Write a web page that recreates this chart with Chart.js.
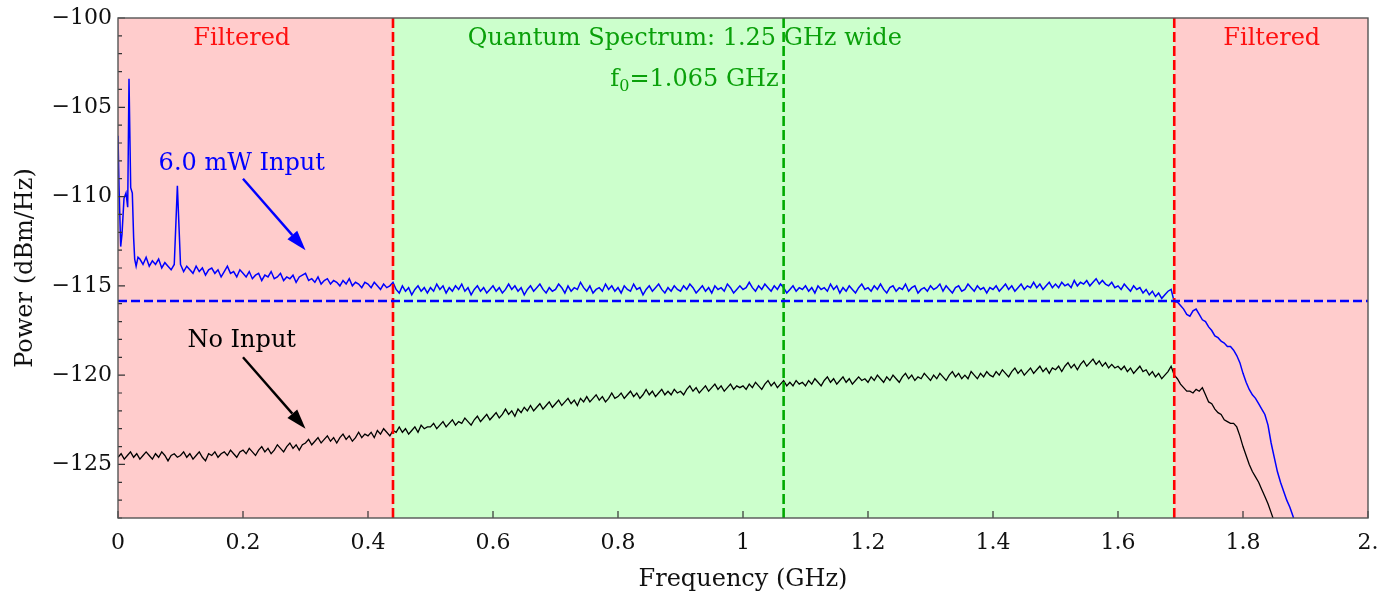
<!DOCTYPE html>
<html>
<head>
<meta charset="utf-8">
<script src="https://cdn.jsdelivr.net/npm/chart.js@4.4.1/dist/chart.umd.min.js"></script>
<style>
  body { margin: 0; background: #fff; }
  #wrap { width: 1384px; height: 603px; }
</style>
</head>
<body>
<div id="wrap"><canvas id="spec" width="1384" height="603"></canvas></div>
<script>
// axis ticks
const xTickValues = [0, 0.2, 0.4, 0.6, 0.8, 1, 1.2, 1.4, 1.6, 1.8, 2];
const xTickLabels = ['0', '0.2', '0.4', '0.6', '0.8', '1', '1.2', '1.4', '1.6', '1.8', '2.'];
const yTickValues = [-125, -120, -115, -110, -105, -100];
const yTickLabels = ['\u2212125', '\u2212120', '\u2212115', '\u2212110', '\u2212105', '\u2212100'];

// filter pass band and center (GHz), reference level (dBm/Hz)
const passLow = 0.44;
const passHigh = 1.69;
const centerFreq = 1.065;
const pumpLevel = -115.85;

// 6.0 mW input, spurs near DC (irregular sampling)
const spurFreq = [0, 0.0016, 0.0043, 0.0064, 0.0096, 0.0128, 0.0155, 0.0176, 0.0203, 0.0229, 0.025, 0.0267, 0.029, 0.032];
const spurPower = [-106.6, -109.4, -112.8, -112.1, -110.1, -109.8, -110.6, -103.4, -109.5, -109.8, -112.3, -113.5, -113.9, -113.4];

// traces on a 5 MHz grid
const gridStep = 0.005;
const pumpStart = 0.035;
const pumpPower = [
  -113.5, -113.8, -113.4, -113.9, -113.6, -113.8, -113.5, -114.0, -113.7, -113.9, -114.1, -113.8, -109.4,
  -113.8, -114.2, -113.9, -114.1, -114.3, -113.9, -114.2, -114.0, -114.4, -114.1, -114.0, -114.3, -114.1, -114.5, -114.2, -113.9, -114.3, -114.2, -114.5, -114.1,
  -114.3, -114.5, -114.2, -114.6, -114.4, -114.3, -114.7, -114.4, -114.5, -114.2, -114.6, -114.5, -114.3, -114.7, -114.5, -114.6, -114.4, -114.8, -114.5, -114.4,
  -114.3, -114.7, -114.6, -114.8, -114.5, -114.9, -114.7, -114.6, -114.9, -114.7, -114.8, -115.0, -114.7, -114.9, -114.6, -115.0, -114.8, -114.9, -115.1, -114.8,
  -114.9, -115.1, -114.8, -115.0, -115.2, -114.9, -115.1, -115.0, -114.8, -115.2, -115.4, -115.0, -115.3, -115.1, -115.5, -115.2, -115.0, -115.3, -115.1, -115.4,
  -115.1, -115.3, -114.9, -115.2, -115.0, -115.4, -115.1, -115.3, -115.0, -115.2, -114.9, -115.3, -115.1, -115.5, -115.2, -115.0, -115.3, -115.1, -115.4, -115.2,
  -115.0, -115.3, -115.1, -115.4, -115.2, -114.9, -115.2, -115.0, -115.3, -115.1, -115.5, -115.2, -115.0, -115.3, -115.1, -114.9, -115.2, -115.4, -115.1, -115.3,
  -115.2, -114.9, -115.1, -115.4, -115.0, -115.3, -115.1, -115.2, -114.8, -115.1, -115.3, -115.0, -115.4, -115.2, -115.1, -115.3, -114.9, -115.2, -115.0, -115.3,
  -115.1, -115.4, -115.0, -115.2, -115.3, -114.9, -115.2, -115.1, -115.5, -115.2, -115.0, -115.3, -115.1, -114.9, -115.2, -115.4, -115.1, -115.3, -115.0, -115.2,
  -115.3, -115.0, -115.2, -114.9, -115.1, -115.4, -115.2, -115.0, -115.3, -115.1, -115.4, -115.0, -115.2, -115.1, -115.3, -114.9, -115.1, -115.4, -115.2, -115.0,
  -115.2, -115.1, -114.8, -115.1, -115.3, -115.0, -115.2, -114.9, -115.1, -115.3, -115.0, -115.2, -114.9, -115.1, -115.4, -115.2, -115.0, -115.3, -115.1, -115.2,
  -115.0, -115.3, -115.1, -115.4, -115.0, -115.2, -115.1, -115.3, -114.9, -115.2, -115.0, -115.4, -115.1, -115.3, -115.0, -115.2, -115.4, -115.1, -114.9, -115.2,
  -115.1, -115.3, -115.0, -115.2, -114.9, -115.2, -115.4, -115.1, -115.0, -115.3, -115.1, -115.2, -114.9, -115.3, -115.1, -115.0, -115.4, -115.2, -115.1, -115.3,
  -115.0, -115.2, -115.1, -114.9, -115.3, -115.0, -115.2, -115.4, -115.1, -115.0, -115.3, -115.2, -114.9, -115.1, -115.3, -115.0, -115.2, -115.1, -115.4, -115.1,
  -115.2, -115.0, -115.3, -115.1, -114.9, -115.2, -115.0, -115.3, -115.1, -114.9, -115.2, -115.0, -115.1, -114.8, -115.1, -114.9, -115.2, -115.0, -114.8, -115.1,
  -114.9, -115.1, -114.8, -115.0, -114.9, -115.1, -114.7, -115.0, -114.8, -114.9, -114.7, -115.0, -114.8, -114.6, -114.9, -114.7, -114.9, -115.0, -114.8, -115.1,
  -115.0, -115.2, -114.9, -115.1, -115.3, -115.0, -115.2, -115.1, -115.4, -115.2, -115.5, -115.3, -115.6, -115.4, -115.7, -115.5, -115.3, -115.2, -115.9, -115.9,
  -116.1, -116.3, -116.6, -116.7, -116.4, -116.3, -116.6, -116.9, -117.0, -117.3, -117.5, -117.8, -117.9, -118.1, -118.2, -118.4, -118.4, -118.6, -118.9, -119.3,
  -119.9, -120.4, -120.8, -121.1, -121.3, -121.6, -121.9, -122.2, -122.8, -123.8, -124.6, -125.4, -126.0, -126.5, -127.0, -127.4, -127.9, -128.5
];

// no input
const quietStart = 0;
const quietPower = [
  -124.6, -124.4, -124.7, -124.5, -124.3, -124.6, -124.4, -124.7, -124.5, -124.3, -124.5, -124.7, -124.4, -124.6, -124.3, -124.5, -124.8, -124.5, -124.4, -124.6,
  -124.5, -124.3, -124.6, -124.4, -124.7, -124.5, -124.3, -124.6, -124.8, -124.4, -124.5, -124.3, -124.6, -124.4, -124.3, -124.5, -124.2, -124.4, -124.6, -124.3,
  -124.2, -124.4, -124.1, -124.3, -124.5, -124.2, -124.0, -124.3, -124.1, -124.4, -124.2, -123.9, -124.1, -124.3, -124.0, -123.8, -124.1, -123.9, -124.2, -123.9,
  -123.8, -123.6, -123.9, -123.7, -123.5, -123.8, -123.6, -123.4, -123.7, -123.5, -123.8, -123.5, -123.3, -123.6, -123.4, -123.7, -123.5, -123.2, -123.5, -123.3,
  -123.4, -123.2, -123.5, -123.1, -123.3, -123.0, -123.2, -123.4, -123.1, -123.2, -122.9, -123.2, -123.0, -123.3, -123.1, -122.9, -123.2, -122.8, -123.0, -122.9,
  -122.9, -122.7, -123.0, -122.8, -122.6, -122.9, -122.7, -122.5, -122.8, -122.6, -122.7, -122.4, -122.6, -122.8, -122.5, -122.3, -122.6, -122.4, -122.2, -122.5,
  -122.3, -122.1, -122.4, -122.2, -121.9, -122.2, -122.0, -122.3, -121.9, -122.1, -121.8, -122.0, -121.7, -122.0, -121.8, -121.6, -121.9, -121.7, -121.5, -121.8,
  -121.6, -121.4, -121.7, -121.5, -121.3, -121.6, -121.4, -121.7, -121.3, -121.5, -121.2, -121.5, -121.3, -121.1, -121.4, -121.2, -121.5, -121.3, -121.0, -121.3,
  -121.2, -121.0, -121.3, -121.1, -120.9, -121.2, -121.0, -121.3, -121.1, -120.8, -121.1, -120.9, -121.2, -121.0, -120.8, -121.1, -120.9, -121.1, -120.8, -121.0,
  -120.9, -121.1, -120.8, -120.6, -120.9, -120.7, -121.0, -120.8, -120.6, -120.9, -120.7, -120.5, -120.8, -120.6, -120.9, -120.7, -120.5, -120.8, -120.6, -120.7,
  -120.6, -120.8, -120.5, -120.7, -120.4, -120.6, -120.8, -120.5, -120.3, -120.6, -120.4, -120.7, -120.5, -120.3, -120.6, -120.4, -120.6, -120.3, -120.5, -120.4,
  -120.6, -120.3, -120.5, -120.2, -120.4, -120.6, -120.3, -120.1, -120.4, -120.2, -120.5, -120.3, -120.1, -120.4, -120.2, -120.5, -120.3, -120.1, -120.3, -120.2,
  -120.4, -120.1, -120.3, -120.0, -120.2, -120.4, -120.1, -120.3, -120.0, -120.2, -120.4, -120.1, -119.9, -120.2, -120.0, -120.3, -120.1, -120.2, -119.9, -120.1,
  -120.3, -120.0, -120.2, -119.9, -120.1, -120.3, -120.0, -119.8, -120.1, -119.9, -120.2, -120.0, -120.2, -119.8, -120.0, -120.2, -119.9, -120.1, -119.8, -120.0,
  -120.1, -119.8, -120.0, -119.7, -119.9, -120.1, -119.8, -119.6, -119.9, -119.7, -120.0, -119.8, -119.6, -119.9, -119.7, -119.5, -119.8, -119.6, -119.9, -119.6,
  -119.7, -119.5, -119.8, -119.5, -119.3, -119.6, -119.4, -119.7, -119.4, -119.2, -119.5, -119.3, -119.1, -119.4, -119.2, -119.5, -119.3, -119.6, -119.4, -119.6,
  -119.5, -119.7, -119.5, -119.8, -119.6, -119.9, -119.7, -119.5, -119.8, -119.7, -120.0, -119.8, -120.1, -119.9, -120.2, -120.0, -119.8, -119.5, -120.0, -120.2,
  -120.5, -120.7, -120.9, -120.9, -121.0, -120.8, -120.9, -120.7, -121.1, -121.5, -121.6, -121.9, -122.1, -122.2, -122.5, -122.6, -122.7, -122.7, -122.9, -123.4,
  -124.0, -124.5, -125.0, -125.4, -125.7, -126.0, -126.4, -126.8, -127.2, -127.7, -128.2, -128.8
];

const SERIF = "'DejaVu Serif', serif";
const RED = '#ff1010';
const GREEN = '#0aa00a';
const BLUE = '#0000ff';

function onGrid(start, values) {
  return values.map((v, i) => ({ x: +(start + i * gridStep).toFixed(4), y: v }));
}

const pumpData = spurFreq.map((f, i) => ({ x: f, y: spurPower[i] })).concat(onGrid(pumpStart, pumpPower));
const quietData = onGrid(quietStart, quietPower);

// text labels and arrows, placed in data units
const notes = [
  { text: 'Filtered', x: 0.198, y: -101.5, color: RED, align: 'center' },
  { text: 'Filtered', x: 1.846, y: -101.5, color: RED, align: 'center' },
  { text: 'Quantum Spectrum: 1.25 GHz wide', x: 0.907, y: -101.5, color: GREEN, align: 'center' },
  { text: '6.0 mW Input', x: 0.198, y: -108.5, color: BLUE, align: 'center' },
  { text: 'No Input', x: 0.198, y: -118.4, color: '#000', align: 'center' }
];
const arrows = [
  { from: [0.2, -109.0], to: [0.3, -113.0], color: BLUE },
  { from: [0.2, -119.0], to: [0.3, -123.0], color: '#000' }
];

function drawArrow(ctx, x0, y0, x1, y1, color) {
  const ang = Math.atan2(y1 - y0, x1 - x0);
  const head = 20, half = 6.5;
  const bx = x1 - head * Math.cos(ang), by = y1 - head * Math.sin(ang);
  ctx.strokeStyle = color;
  ctx.fillStyle = color;
  ctx.lineWidth = 2.4;
  ctx.beginPath();
  ctx.moveTo(x0, y0);
  ctx.lineTo(bx, by);
  ctx.stroke();
  ctx.beginPath();
  ctx.moveTo(x1, y1);
  ctx.lineTo(bx + half * Math.sin(ang), by - half * Math.cos(ang));
  ctx.lineTo(bx - half * Math.sin(ang), by + half * Math.cos(ang));
  ctx.closePath();
  ctx.fill();
}

const bandPlugin = {
  id: 'bands',
  beforeDatasetsDraw(chart) {
    const { ctx, chartArea: a, scales: { x } } = chart;
    const xl = x.getPixelForValue(passLow), xh = x.getPixelForValue(passHigh);
    ctx.save();
    ctx.fillStyle = '#ffcccc';
    ctx.fillRect(a.left, a.top, xl - a.left, a.bottom - a.top);
    ctx.fillRect(xh, a.top, a.right - xh, a.bottom - a.top);
    ctx.fillStyle = '#ccffcc';
    ctx.fillRect(xl, a.top, xh - xl, a.bottom - a.top);
    ctx.restore();
  }
};

const notePlugin = {
  id: 'notes',
  afterDatasetsDraw(chart) {
    const { ctx, scales: { x, y } } = chart;
    ctx.save();
    ctx.font = '24px ' + SERIF;
    ctx.textBaseline = 'alphabetic';
    notes.forEach(n => {
      ctx.fillStyle = n.color;
      ctx.textAlign = n.align;
      ctx.fillText(n.text, x.getPixelForValue(n.x), y.getPixelForValue(n.y));
    });
    // f0 label with subscript, right edge just left of the center line
    const right = x.getPixelForValue(centerFreq) - 5;
    const base = y.getPixelForValue(-103.8);
    ctx.textAlign = 'left';
    ctx.fillStyle = GREEN;
    const tail = '=1.065 GHz';
    ctx.font = '24px ' + SERIF;
    const wf = ctx.measureText('f').width, wt = ctx.measureText(tail).width;
    ctx.font = '16px ' + SERIF;
    const ws = ctx.measureText('0').width;
    let px = right - wf - ws - wt;
    ctx.font = '24px ' + SERIF;
    ctx.fillText('f', px, base);
    ctx.font = '16px ' + SERIF;
    ctx.fillText('0', px + wf, base + 5);
    ctx.font = '24px ' + SERIF;
    ctx.fillText(tail, px + wf + ws, base);
    arrows.forEach(r => drawArrow(ctx,
      x.getPixelForValue(r.from[0]), y.getPixelForValue(r.from[1]),
      x.getPixelForValue(r.to[0]), y.getPixelForValue(r.to[1]), r.color));
    ctx.restore();
  }
};

const framePlugin = {
  id: 'frame',
  afterDraw(chart) {
    const { ctx, chartArea: a, scales: { x, y } } = chart;
    ctx.save();
    ctx.strokeStyle = '#333';
    ctx.lineWidth = 1.2;
    ctx.beginPath();
    xTickValues.forEach(v => {
      const px = x.getPixelForValue(v);
      ctx.moveTo(px, a.bottom);
      ctx.lineTo(px, a.bottom - 7);
    });
    for (let v = Math.ceil(y.min); v <= y.max; v++) {
      const py = y.getPixelForValue(v);
      const len = v % 5 === 0 ? 7 : 4;
      ctx.moveTo(a.left, py);
      ctx.lineTo(a.left + len, py);
    }
    ctx.stroke();
    ctx.strokeStyle = '#555';
    ctx.lineWidth = 1.4;
    ctx.strokeRect(a.left, a.top, a.right - a.left, a.bottom - a.top);
    ctx.restore();
  }
};

const vline = (f, color) => ({
  data: [{ x: f, y: -128 }, { x: f, y: -100 }],
  borderColor: color, borderWidth: 2.6, borderDash: [10, 4], pointRadius: 0, order: 0
});

new Chart(document.getElementById('spec'), {
  type: 'line',
  data: {
    datasets: [
      { label: 'No Input', data: quietData, borderColor: '#000', borderWidth: 1.3, pointRadius: 0, order: 2 },
      { label: '6.0 mW Input', data: pumpData, borderColor: BLUE, borderWidth: 1.5, pointRadius: 0, order: 1 },
      { data: [{ x: 0, y: pumpLevel }, { x: 2, y: pumpLevel }], borderColor: BLUE, borderWidth: 2.4, borderDash: [9, 4], pointRadius: 0, order: 0 },
      vline(passLow, '#ff0000'),
      vline(passHigh, '#ff0000'),
      vline(centerFreq, '#00aa00')
    ]
  },
  options: {
    responsive: false,
    animation: false,
    layout: { padding: { top: 18, right: 16, left: 0, bottom: 0 } },
    plugins: { legend: { display: false }, tooltip: { enabled: false } },
    scales: {
      x: {
        type: 'linear', min: 0, max: 2,
        afterBuildTicks: s => { s.ticks = xTickValues.map(v => ({ value: v })); },
        afterFit: s => { s.height = 85; s.paddingLeft = 0; s.paddingRight = 0; },
        grid: { display: false, drawTicks: false },
        border: { display: false },
        ticks: {
          padding: 12, color: '#111', maxRotation: 0, autoSkip: false,
          font: { family: SERIF, size: 22 },
          callback: (v, i) => xTickLabels[i]
        },
        title: {
          display: true, text: 'Frequency (GHz)', color: '#111',
          font: { family: SERIF, size: 24 }, padding: { top: 4, bottom: 9 }
        }
      },
      y: {
        type: 'linear', min: -128, max: -100,
        afterBuildTicks: s => { s.ticks = yTickValues.map(v => ({ value: v })); },
        afterFit: s => { s.width = 118; s.paddingTop = 0; s.paddingBottom = 0; },
        grid: { display: false, drawTicks: false },
        border: { display: false },
        ticks: {
          padding: 6, color: '#111', autoSkip: false,
          font: { family: SERIF, size: 22 },
          callback: (v, i) => yTickLabels[i]
        },
        title: {
          display: true, text: 'Power (dBm/Hz)', color: '#111',
          font: { family: SERIF, size: 24 }, padding: { top: 11, bottom: 0 }
        }
      }
    }
  },
  plugins: [bandPlugin, notePlugin, framePlugin]
});
</script>
</body>
</html>
